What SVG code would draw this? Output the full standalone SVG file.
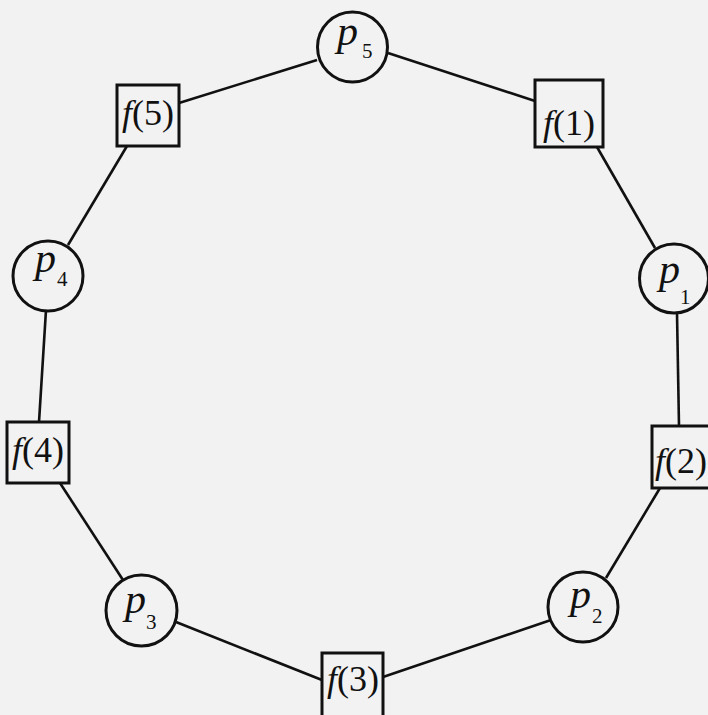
<svg xmlns="http://www.w3.org/2000/svg" width="708" height="715" viewBox="0 0 708 715">
<style>
.bg{fill:#f2f2f2}
.node{fill:#f2f2f2;stroke:#111;stroke-width:3}
.edge{stroke:#111;stroke-width:2.6;fill:none}
.p{font-family:"Liberation Serif",serif;font-style:italic;font-size:42px;fill:#111}
.sub{font-family:"Liberation Serif",serif;font-size:21px;fill:#111}
.f{font-family:"Liberation Serif",serif;font-size:36px;fill:#111}
.it{font-style:italic}
</style>
<rect class="bg" x="0" y="0" width="708" height="715"/>
<g id="connectors">
<line class="edge" x1="388" y1="53" x2="535" y2="101"/>
<line class="edge" x1="597" y1="147" x2="655" y2="248"/>
<line class="edge" x1="677" y1="313" x2="679" y2="426"/>
<line class="edge" x1="660" y1="488" x2="606" y2="578"/>
<line class="edge" x1="551" y1="620" x2="383" y2="677"/>
<line class="edge" x1="322" y1="680" x2="176" y2="622"/>
<line class="edge" x1="123" y1="580" x2="60" y2="483"/>
<line class="edge" x1="39" y1="422" x2="46" y2="310"/>
<line class="edge" x1="68" y1="245" x2="127" y2="146"/>
<line class="edge" x1="179" y1="103" x2="317" y2="60"/>
</g>
<g id="p5">
<circle class="node" cx="352.5" cy="47" r="35"/>
<text class="p" x="337" y="45">p</text><text class="sub" x="362" y="58">5</text>
</g>
<g id="f1">
<rect class="node" x="535" y="80" width="68" height="67"/>
<text class="f" x="569" y="135" text-anchor="middle"><tspan class="it">f</tspan>(1)</text>
</g>
<g id="p1">
<circle class="node" cx="674" cy="278.5" r="34.5"/>
<text class="p" x="659" y="283">p</text><text class="sub" x="680" y="304">1</text>
</g>
<g id="f2">
<rect class="node" x="652" y="426" width="68" height="62"/>
<text class="f" x="681" y="473" text-anchor="middle"><tspan class="it">f</tspan>(2)</text>
</g>
<g id="p2">
<circle class="node" cx="583" cy="607" r="35"/>
<text class="p" x="570" y="608">p</text><text class="sub" x="592" y="623">2</text>
</g>
<g id="f3">
<rect class="node" x="322" y="653" width="61" height="66"/>
<text class="f" x="353" y="691" text-anchor="middle"><tspan class="it">f</tspan>(3)</text>
</g>
<g id="p3">
<circle class="node" cx="141.5" cy="610.5" r="35.5"/>
<text class="p" x="125" y="613">p</text><text class="sub" x="146" y="629">3</text>
</g>
<g id="f4">
<rect class="node" x="7" y="422" width="62" height="61"/>
<text class="f" x="38" y="462" text-anchor="middle"><tspan class="it">f</tspan>(4)</text>
</g>
<g id="p4">
<circle class="node" cx="48" cy="276" r="35"/>
<text class="p" x="35" y="272">p</text><text class="sub" x="57" y="286">4</text>
</g>
<g id="f5">
<rect class="node" x="117" y="85" width="62" height="61"/>
<text class="f" x="148" y="125" text-anchor="middle"><tspan class="it">f</tspan>(5)</text>
</g>
</svg>
